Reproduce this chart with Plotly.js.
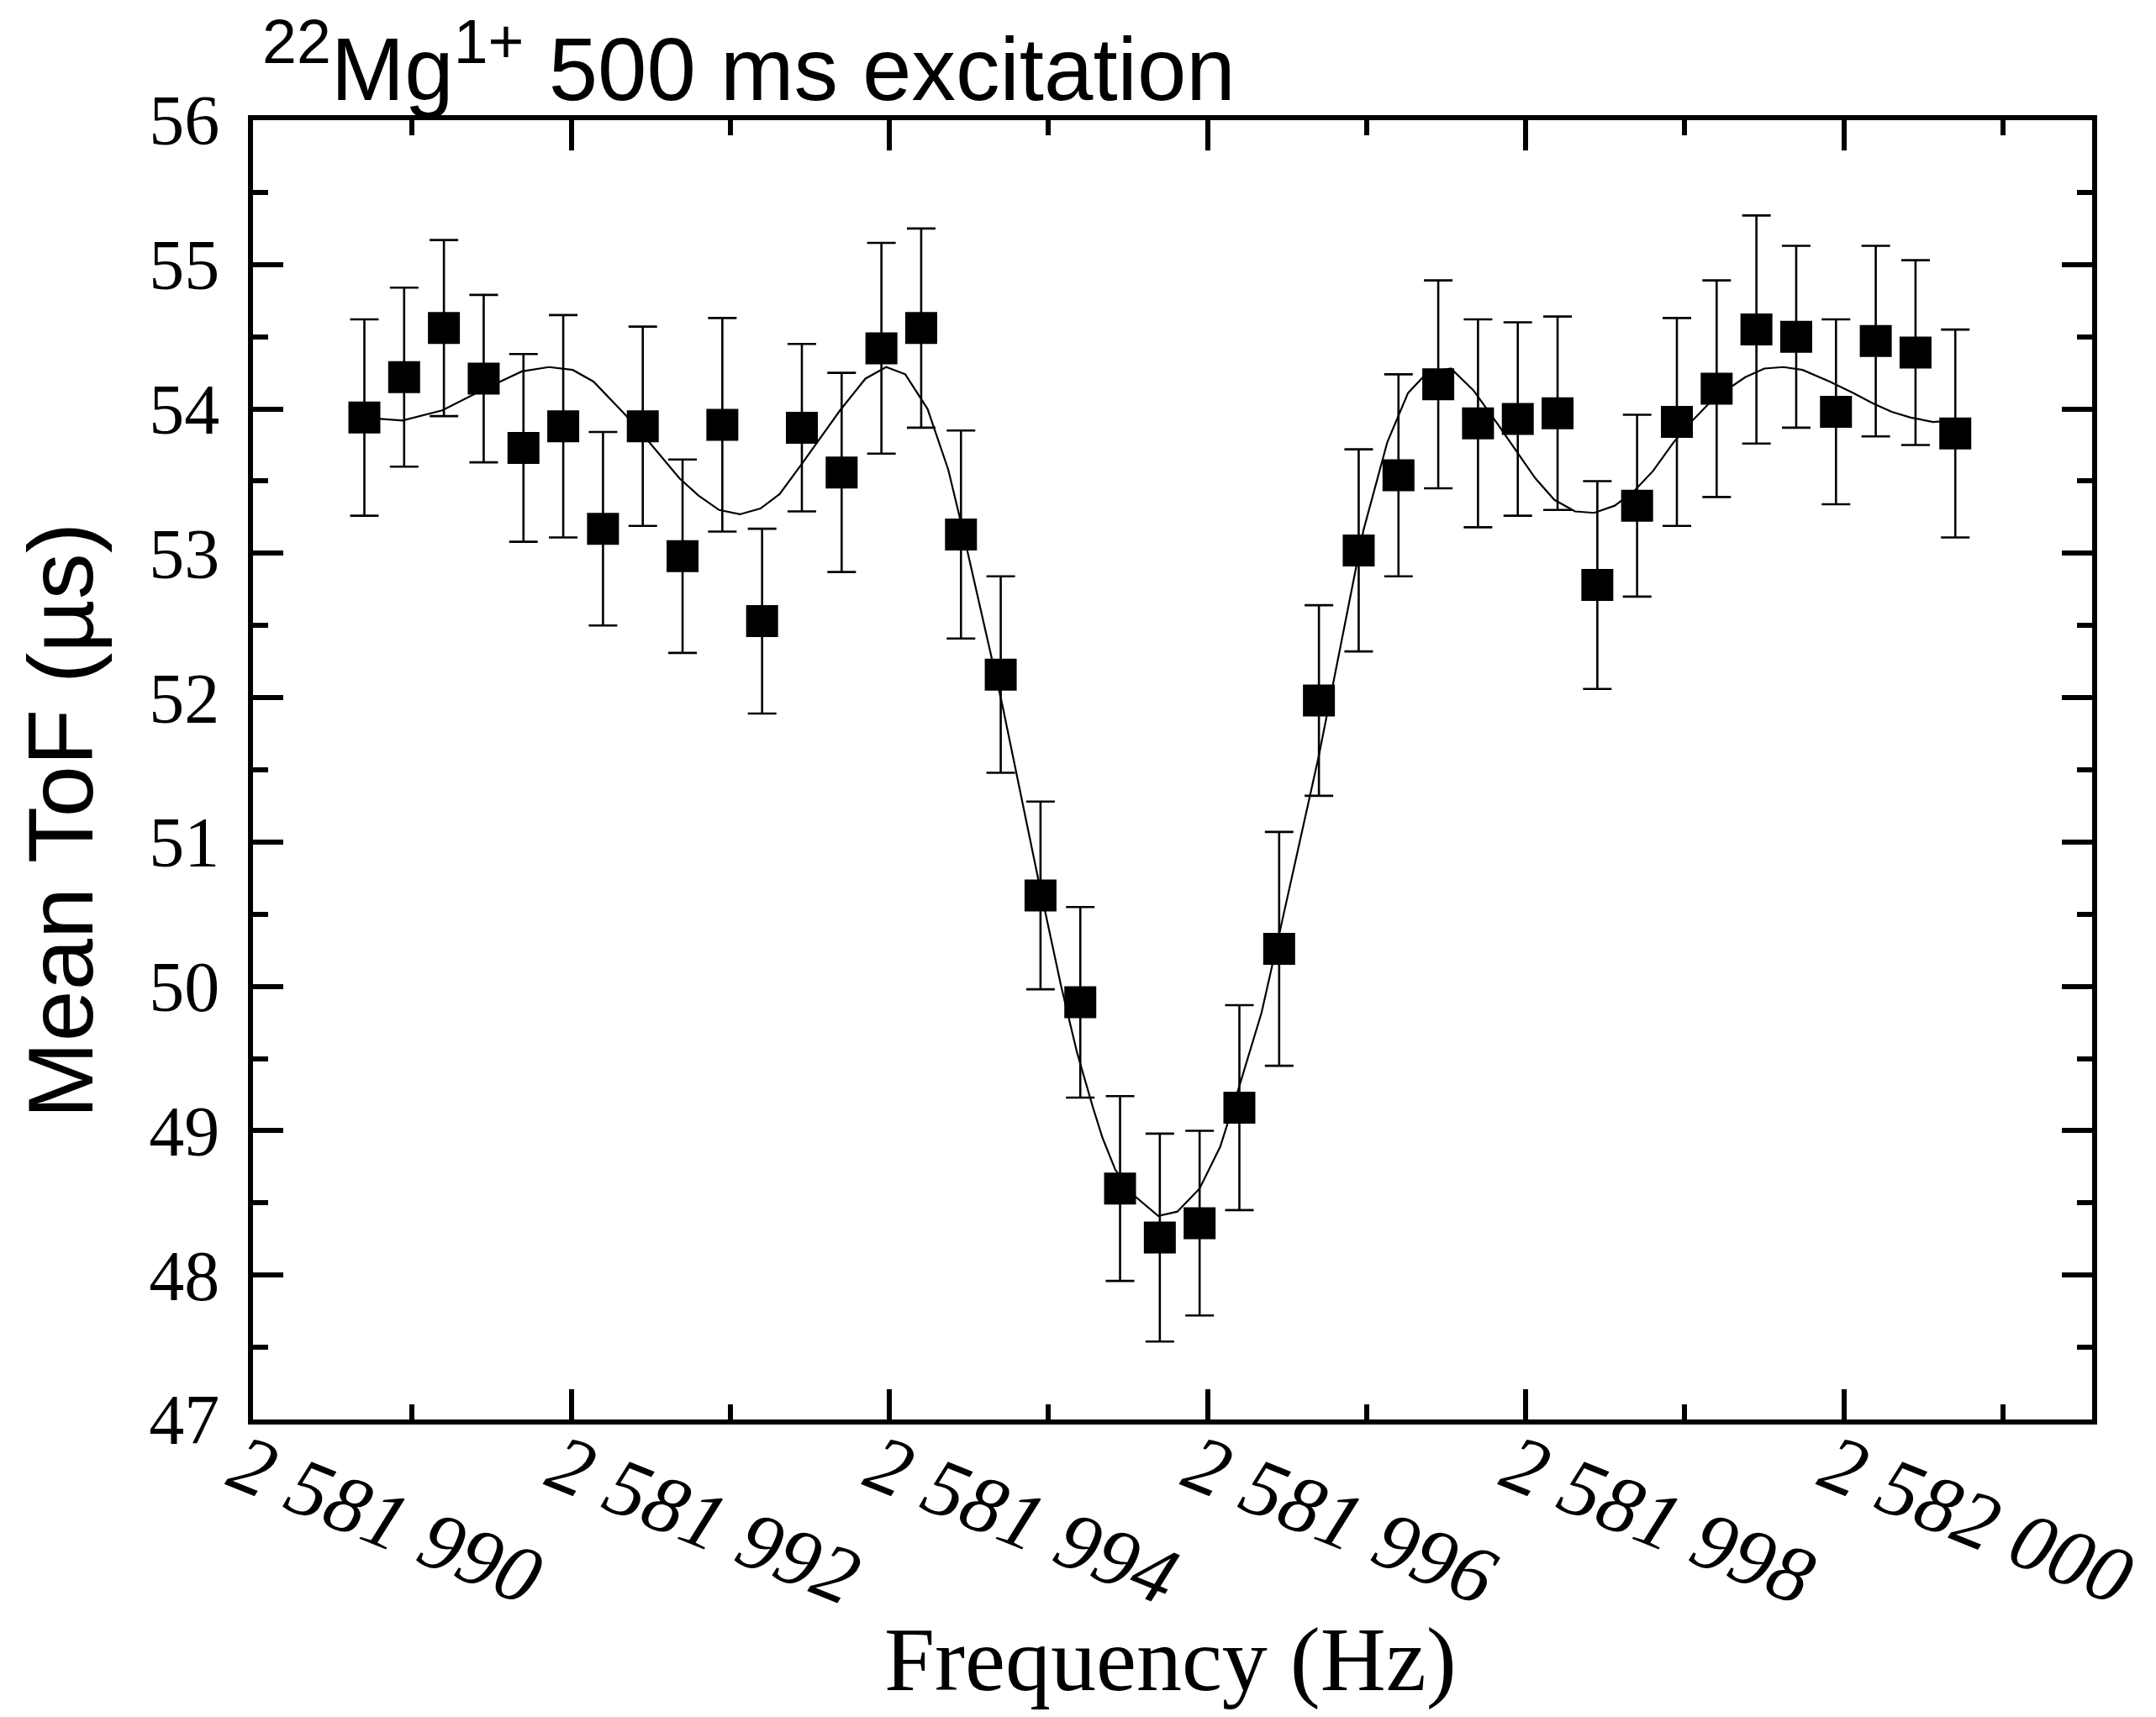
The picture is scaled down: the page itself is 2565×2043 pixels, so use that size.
<!DOCTYPE html>
<html>
<head>
<meta charset="utf-8">
<script src="https://cdn.plot.ly/plotly-3.0.1.min.js"></script>
<style>
  html, body { margin: 0; padding: 0; background: #fff; }
  #chart { width: 2565px; height: 2043px; }
</style>
</head>
<body>
<div id="chart"></div>
<script>
// measured points: frequency (Hz), mean ToF (us), 1-sigma error
var freq = [
  2581990.70, 2581990.95, 2581991.20, 2581991.45, 2581991.70, 2581991.95, 2581992.20,
  2581992.45, 2581992.70, 2581992.95, 2581993.20, 2581993.45, 2581993.70, 2581993.95,
  2581994.20, 2581994.45, 2581994.70, 2581994.95, 2581995.20, 2581995.45, 2581995.70,
  2581995.95, 2581996.20, 2581996.45, 2581996.70, 2581996.95, 2581997.20, 2581997.45,
  2581997.70, 2581997.95, 2581998.20, 2581998.45, 2581998.70, 2581998.95, 2581999.20,
  2581999.45, 2581999.70, 2581999.95, 2582000.20, 2582000.45, 2582000.70
];
var tof = [
  53.94, 54.22, 54.56, 54.21, 53.73, 53.88, 53.17, 53.88, 52.98, 53.89, 52.53,
  53.87, 53.56, 54.42, 54.56, 53.13, 52.16, 50.63, 49.89, 48.60, 48.26, 48.36,
  49.16, 50.26, 51.98, 53.02, 53.54, 54.17, 53.90, 53.93, 53.97, 52.78, 53.33,
  53.91, 54.14, 54.55, 54.50, 53.98, 54.47, 54.39, 53.83
];
var tofErr = [
  0.68, 0.62, 0.61, 0.58, 0.65, 0.77, 0.67, 0.69, 0.67, 0.74, 0.64,
  0.58, 0.69, 0.73, 0.69, 0.72, 0.68, 0.65, 0.66, 0.64, 0.72, 0.64,
  0.71, 0.81, 0.66, 0.70, 0.70, 0.72, 0.72, 0.67, 0.67, 0.72, 0.63,
  0.72, 0.75, 0.79, 0.63, 0.64, 0.66, 0.64, 0.72
];

// fitted line shape
var fitFreq = [
  2581990.69, 2581990.94, 2581991.19, 2581991.44, 2581991.69, 2581991.86, 2581992.01,
  2581992.14, 2581992.34, 2581992.49, 2581992.68, 2581992.80, 2581992.93, 2581993.06,
  2581993.19, 2581993.31, 2581993.45, 2581993.69, 2581993.85, 2581993.98, 2581994.10,
  2581994.24, 2581994.37, 2581994.44, 2581994.71, 2581994.94, 2581995.08, 2581995.18,
  2581995.28, 2581995.34, 2581995.42, 2581995.54, 2581995.69, 2581995.81, 2581995.95,
  2581996.08, 2581996.20, 2581996.34, 2581996.44, 2581996.59, 2581996.70, 2581996.98,
  2581997.13, 2581997.26, 2581997.38, 2581997.53, 2581997.67, 2581997.82, 2581997.94,
  2581998.06, 2581998.18, 2581998.31, 2581998.43, 2581998.56, 2581998.68, 2581998.80,
  2581998.93, 2581999.04, 2581999.18, 2581999.29, 2581999.38, 2581999.50, 2581999.62,
  2581999.74, 2581999.91, 2582000.06, 2582000.18, 2582000.30, 2582000.42, 2582000.56,
  2582000.70
];
var fitTof = [
  53.94, 53.92, 53.99, 54.13, 54.26, 54.29, 54.27,
  54.19, 53.96, 53.77, 53.52, 53.40, 53.30, 53.27,
  53.31, 53.41, 53.62, 53.99, 54.21, 54.29, 54.24,
  54.00, 53.58, 53.26, 51.95, 50.72, 50.00, 49.54,
  49.16, 48.95, 48.73, 48.55, 48.41, 48.44, 48.60,
  48.89, 49.31, 49.82, 50.31, 51.05, 51.60, 53.16,
  53.77, 54.11, 54.25, 54.28, 54.13, 53.90, 53.71,
  53.52, 53.37, 53.29, 53.28, 53.33, 53.43, 53.57,
  53.77, 53.91, 54.07, 54.15, 54.22, 54.28, 54.29,
  54.27, 54.19, 54.11, 54.04, 53.98, 53.94, 53.91,
  53.92
];

var serif = "Liberation Serif, Times New Roman, serif";
var sans = "Liberation Sans, Arial, sans-serif";

var data = [
  {
    type: "scatter",
    mode: "lines",
    x: fitFreq,
    y: fitTof,
    line: { color: "black", width: 2.2 },
    hoverinfo: "skip"
  },
  {
    type: "scatter",
    mode: "markers",
    x: freq,
    y: tof,
    marker: { symbol: "square", size: 38, color: "black" },
    error_y: { type: "data", array: tofErr, visible: true, color: "black", thickness: 2.6, width: 17 }
  }
];

var layout = {
  width: 2565,
  height: 2043,
  margin: { l: 301, r: 76, t: 143, b: 354 },
  paper_bgcolor: "white",
  plot_bgcolor: "white",
  showlegend: false,
  separators: ". ",
  xaxis: {
    range: [2581990, 2582001.56],
    tick0: 2581990,
    dtick: 2,
    tickformat: ",d",
    tickangle: 22,
    ticks: "inside",
    ticklen: 36,
    tickwidth: 6,
    tickcolor: "black",
    minor: { dtick: 1, ticks: "inside", ticklen: 18, tickwidth: 6, tickcolor: "black" },
    showline: true,
    linewidth: 6,
    linecolor: "black",
    mirror: "ticks",
    showgrid: false,
    zeroline: false,
    ticklabelshift: -16,
    ticklabelstandoff: -42,
    tickfont: { family: serif, size: 97, color: "black", style: "italic" }
  },
  yaxis: {
    range: [47, 56],
    tick0: 47,
    dtick: 1,
    ticks: "inside",
    ticklen: 36,
    tickwidth: 6,
    tickcolor: "black",
    minor: { dtick: 0.5, ticks: "inside", ticklen: 18, tickwidth: 6, tickcolor: "black" },
    showline: true,
    linewidth: 6,
    linecolor: "black",
    mirror: "ticks",
    showgrid: false,
    zeroline: false,
    ticklabelstandoff: 17,
    tickfont: { family: serif, size: 84, color: "black" }
  },
  annotations: [
    {
      text: "<sup>22</sup>Mg<sup>1+</sup> 500 ms excitation",
      xref: "paper", yref: "paper",
      x: 0.004, y: 1.0,
      xanchor: "left", yanchor: "bottom",
      showarrow: false,
      font: { family: sans, size: 105, color: "black" }
    },
    {
      text: "Mean ToF (\u00b5s)",
      xref: "paper", yref: "paper",
      x: -0.105, y: 0.4607,
      xanchor: "center", yanchor: "middle",
      textangle: -90,
      showarrow: false,
      font: { family: sans, size: 110, color: "black" }
    },
    {
      text: "Frequency (Hz)",
      xref: "paper", yref: "paper",
      x: 0.499, y: -0.185,
      xanchor: "center", yanchor: "middle",
      showarrow: false,
      font: { family: serif, size: 108, color: "black" }
    }
  ]
};

Plotly.newPlot("chart", data, layout, { staticPlot: true });
</script>
</body>
</html>
